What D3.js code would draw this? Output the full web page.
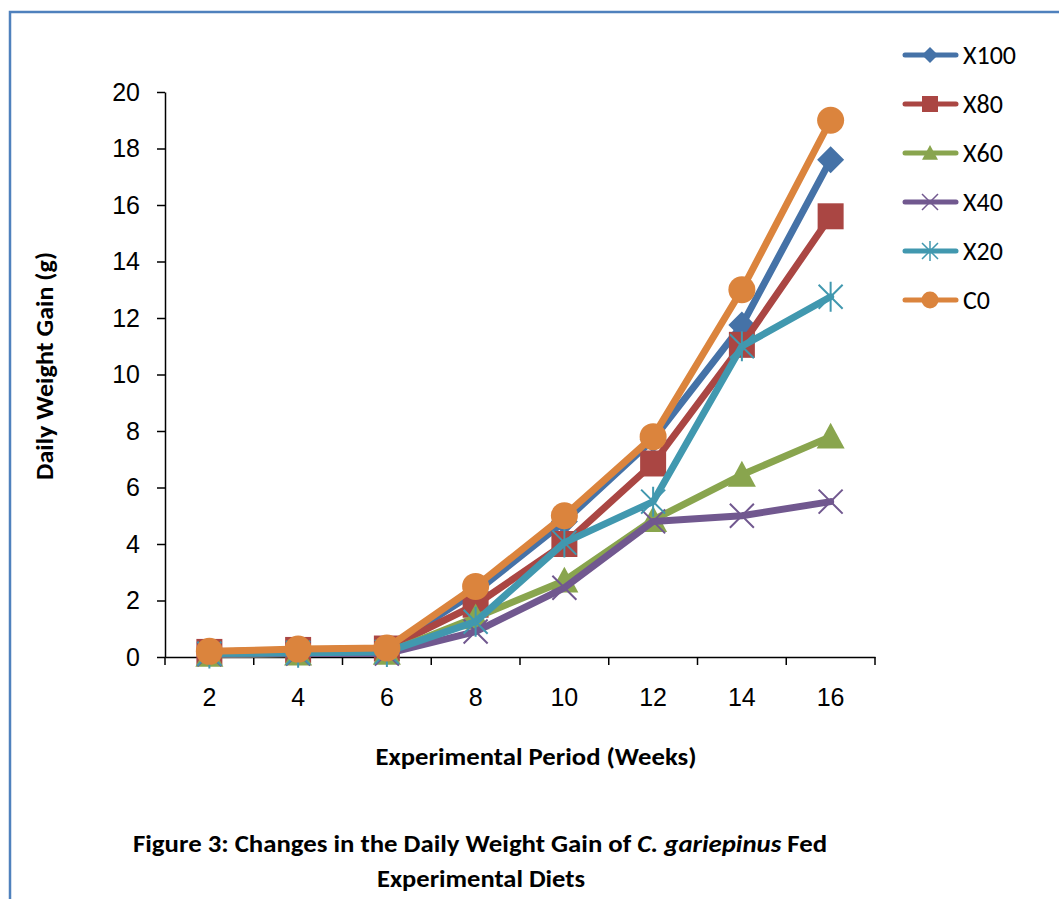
<!DOCTYPE html>
<html>
<head>
<meta charset="utf-8">
<script src="https://cdn.jsdelivr.net/npm/d3@7"></script>
<style>
  html, body { margin: 0; padding: 0; background: #fff; }
  svg { display: block; font-family: Carlito, Calibri, Lato, "Open Sans", sans-serif; }
</style>
</head>
<body>
<div id="plot"></div>
<script>
// Weeks on the category axis
const weeks = [2, 4, 6, 8, 10, 12, 14, 16];

// Daily weight gain (g) per diet
const x100 = [0.18, 0.25, 0.3, 2.3, 4.8, 7.7, 11.75, 17.6];
const x80 = [0.18, 0.25, 0.3, 1.85, 4.0, 6.85, 11.05, 15.6];
const x60 = [0.08, 0.12, 0.15, 1.4, 2.7, 4.85, 6.45, 7.8];
const x40 = [0.1, 0.12, 0.12, 0.9, 2.45, 4.8, 5.0, 5.5];
const x20 = [0.12, 0.15, 0.18, 1.25, 4.05, 5.5, 11.0, 12.75];
const c0 = [0.2, 0.28, 0.32, 2.5, 5.0, 7.8, 13.0, 19.0];

const seriesNames = ['X100', 'X80', 'X60', 'X40', 'X20', 'C0'];
const seriesColors = ['#4572A7', '#AA4643', '#89A54E', '#71588F', '#4198AF', '#DB843D'];
const seriesMarkers = ['diamond', 'square', 'triangle', 'x', 'asterisk', 'circle'];
const yTicks = [0, 2, 4, 6, 8, 10, 12, 14, 16, 18, 20];

const seriesValues = [x100, x80, x60, x40, x20, c0];
const series = seriesNames.map((name, i) => ({
  name,
  color: seriesColors[i],
  marker: seriesMarkers[i],
  values: weeks.map((w, j) => ({ week: w, value: seriesValues[i][j] }))
}));

const W = 1059, H = 899;
const margin = { top: 92, right: 184, bottom: 242, left: 165 };

const svg = d3.select('#plot').append('svg').attr('width', W).attr('height', H);

// outer frame (runs off the right and bottom edges)
svg.append('rect')
  .attr('x', 10).attr('y', 12)
  .attr('width', W + 20).attr('height', H + 20)
  .attr('fill', 'none').attr('stroke', '#4F81BD').attr('stroke-width', 2.5);

const xScale = d3.scaleBand().domain(weeks).range([margin.left, W - margin.right]);
const yScale = d3.scaleLinear().domain([0, 20]).range([H - margin.bottom, margin.top]);
const xc = (w) => xScale(w) + xScale.bandwidth() / 2;

// y axis
const yAxis = svg.append('g')
  .attr('transform', `translate(${margin.left},0)`)
  .call(d3.axisLeft(yScale).tickValues(yTicks).tickSize(8).tickPadding(17).tickSizeOuter(0));
yAxis.select('.domain').attr('stroke', '#000').attr('stroke-width', 1.5);
yAxis.selectAll('line').attr('stroke', '#000').attr('stroke-width', 1.5);
yAxis.selectAll('text').style('font-size', '25px').attr('fill', '#000');

// x axis: labels centred in categories, ticks on category boundaries
const xAxis = svg.append('g')
  .attr('transform', `translate(0,${yScale(0)})`)
  .call(d3.axisBottom(xScale).tickSize(0).tickPadding(31).tickSizeOuter(0));
xAxis.select('.domain').attr('stroke', '#000').attr('stroke-width', 1.5);
xAxis.selectAll('text').style('font-size', '25px').attr('fill', '#000');
const boundaries = weeks.map((w) => xScale(w)).concat([xScale(weeks[weeks.length - 1]) + xScale.bandwidth()]);
xAxis.selectAll('line.bound')
  .data(boundaries)
  .enter()
  .append('line')
  .attr('class', 'bound')
  .attr('x1', (d) => d).attr('x2', (d) => d)
  .attr('y1', 0).attr('y2', 8)
  .attr('stroke', '#000').attr('stroke-width', 1.5);

// marker paths
function markerPath(type, s) {
  const h = s / 2;
  switch (type) {
    case 'diamond': return `M0,${-h}L${h},0L0,${h}L${-h},0Z`;
    case 'square': return `M${-h},${-h}H${h}V${h}H${-h}Z`;
    case 'triangle': return `M0,${-h}L${h},${h * 0.85}L${-h},${h * 0.85}Z`;
    case 'x': return `M${-h},${-h}L${h},${h}M${h},${-h}L${-h},${h}`;
    case 'asterisk': return `M${-h},${-h}L${h},${h}M${h},${-h}L${-h},${h}M0,${-h * 1.25}V${h * 1.25}`;
    case 'circle': return `M${h},0A${h},${h} 0 1,1 ${-h},0A${h},${h} 0 1,1 ${h},0Z`;
  }
}
const strokeOnly = (t) => t === 'x' || t === 'asterisk';
const markerSize = { diamond: 27, square: 26, triangle: 28, x: 24, asterisk: 24, circle: 27 };

const line = d3.line().x((d) => xc(d.week)).y((d) => yScale(d.value));

const plot = svg.append('g');
series.forEach((s) => {
  const g = plot.append('g');
  g.append('path')
    .datum(s.values)
    .attr('d', line)
    .attr('fill', 'none')
    .attr('stroke', s.color)
    .attr('stroke-width', 7)
    .attr('stroke-linejoin', 'round')
    .attr('stroke-linecap', 'round');
  g.selectAll('path.mk')
    .data(s.values)
    .enter()
    .append('path')
    .attr('class', 'mk')
    .attr('transform', (d) => `translate(${xc(d.week)},${yScale(d.value)})`)
    .attr('d', markerPath(s.marker, markerSize[s.marker]))
    .attr('fill', strokeOnly(s.marker) ? 'none' : s.color)
    .attr('stroke', s.color)
    .attr('stroke-width', strokeOnly(s.marker) ? 2 : 0);
});

// legend
const legend = svg.append('g');
series.forEach((s, i) => {
  const y = 55 + i * 49;
  legend.append('line')
    .attr('x1', 905).attr('x2', 956).attr('y1', y).attr('y2', y)
    .attr('stroke', s.color).attr('stroke-width', 5).attr('stroke-linecap', 'round');
  legend.append('path')
    .attr('transform', `translate(930,${y})`)
    .attr('d', markerPath(s.marker, s.marker === 'circle' ? 17 : 16))
    .attr('fill', strokeOnly(s.marker) ? 'none' : s.color)
    .attr('stroke', s.color)
    .attr('stroke-width', strokeOnly(s.marker) ? 1.5 : 0);
  legend.append('text')
    .attr('x', 963).attr('y', y)
    .attr('dominant-baseline', 'central')
    .style('font-size', '26px')
    .text(s.name);
});

// axis titles
svg.append('text')
  .attr('transform', `translate(44,366) rotate(-90)`)
  .attr('text-anchor', 'middle')
  .attr('dominant-baseline', 'central')
  .attr('textLength', 228)
  .attr('lengthAdjust', 'spacingAndGlyphs')
  .style('font-size', '25px')
  .style('font-weight', 'bold')
  .text('Daily Weight Gain (g)');

svg.append('text')
  .attr('x', 536).attr('y', 756)
  .attr('text-anchor', 'middle')
  .attr('dominant-baseline', 'central')
  .attr('textLength', 321)
  .attr('lengthAdjust', 'spacingAndGlyphs')
  .style('font-size', '25px')
  .style('font-weight', 'bold')
  .text('Experimental Period (Weeks)');

// figure caption
const cap1 = svg.append('text')
  .attr('x', 480).attr('y', 843)
  .attr('text-anchor', 'middle')
  .attr('dominant-baseline', 'central')
  .attr('textLength', 694)
  .attr('lengthAdjust', 'spacingAndGlyphs')
  .style('font-size', '25px')
  .style('font-weight', 'bold');
cap1.append('tspan').text('Figure 3: Changes in the Daily Weight Gain of ');
cap1.append('tspan').style('font-style', 'italic').text('C. gariepinus');
cap1.append('tspan').text(' Fed');

svg.append('text')
  .attr('x', 481).attr('y', 878)
  .attr('text-anchor', 'middle')
  .attr('dominant-baseline', 'central')
  .attr('textLength', 208)
  .attr('lengthAdjust', 'spacingAndGlyphs')
  .style('font-size', '25px')
  .style('font-weight', 'bold')
  .text('Experimental Diets');
</script>
</body>
</html>
